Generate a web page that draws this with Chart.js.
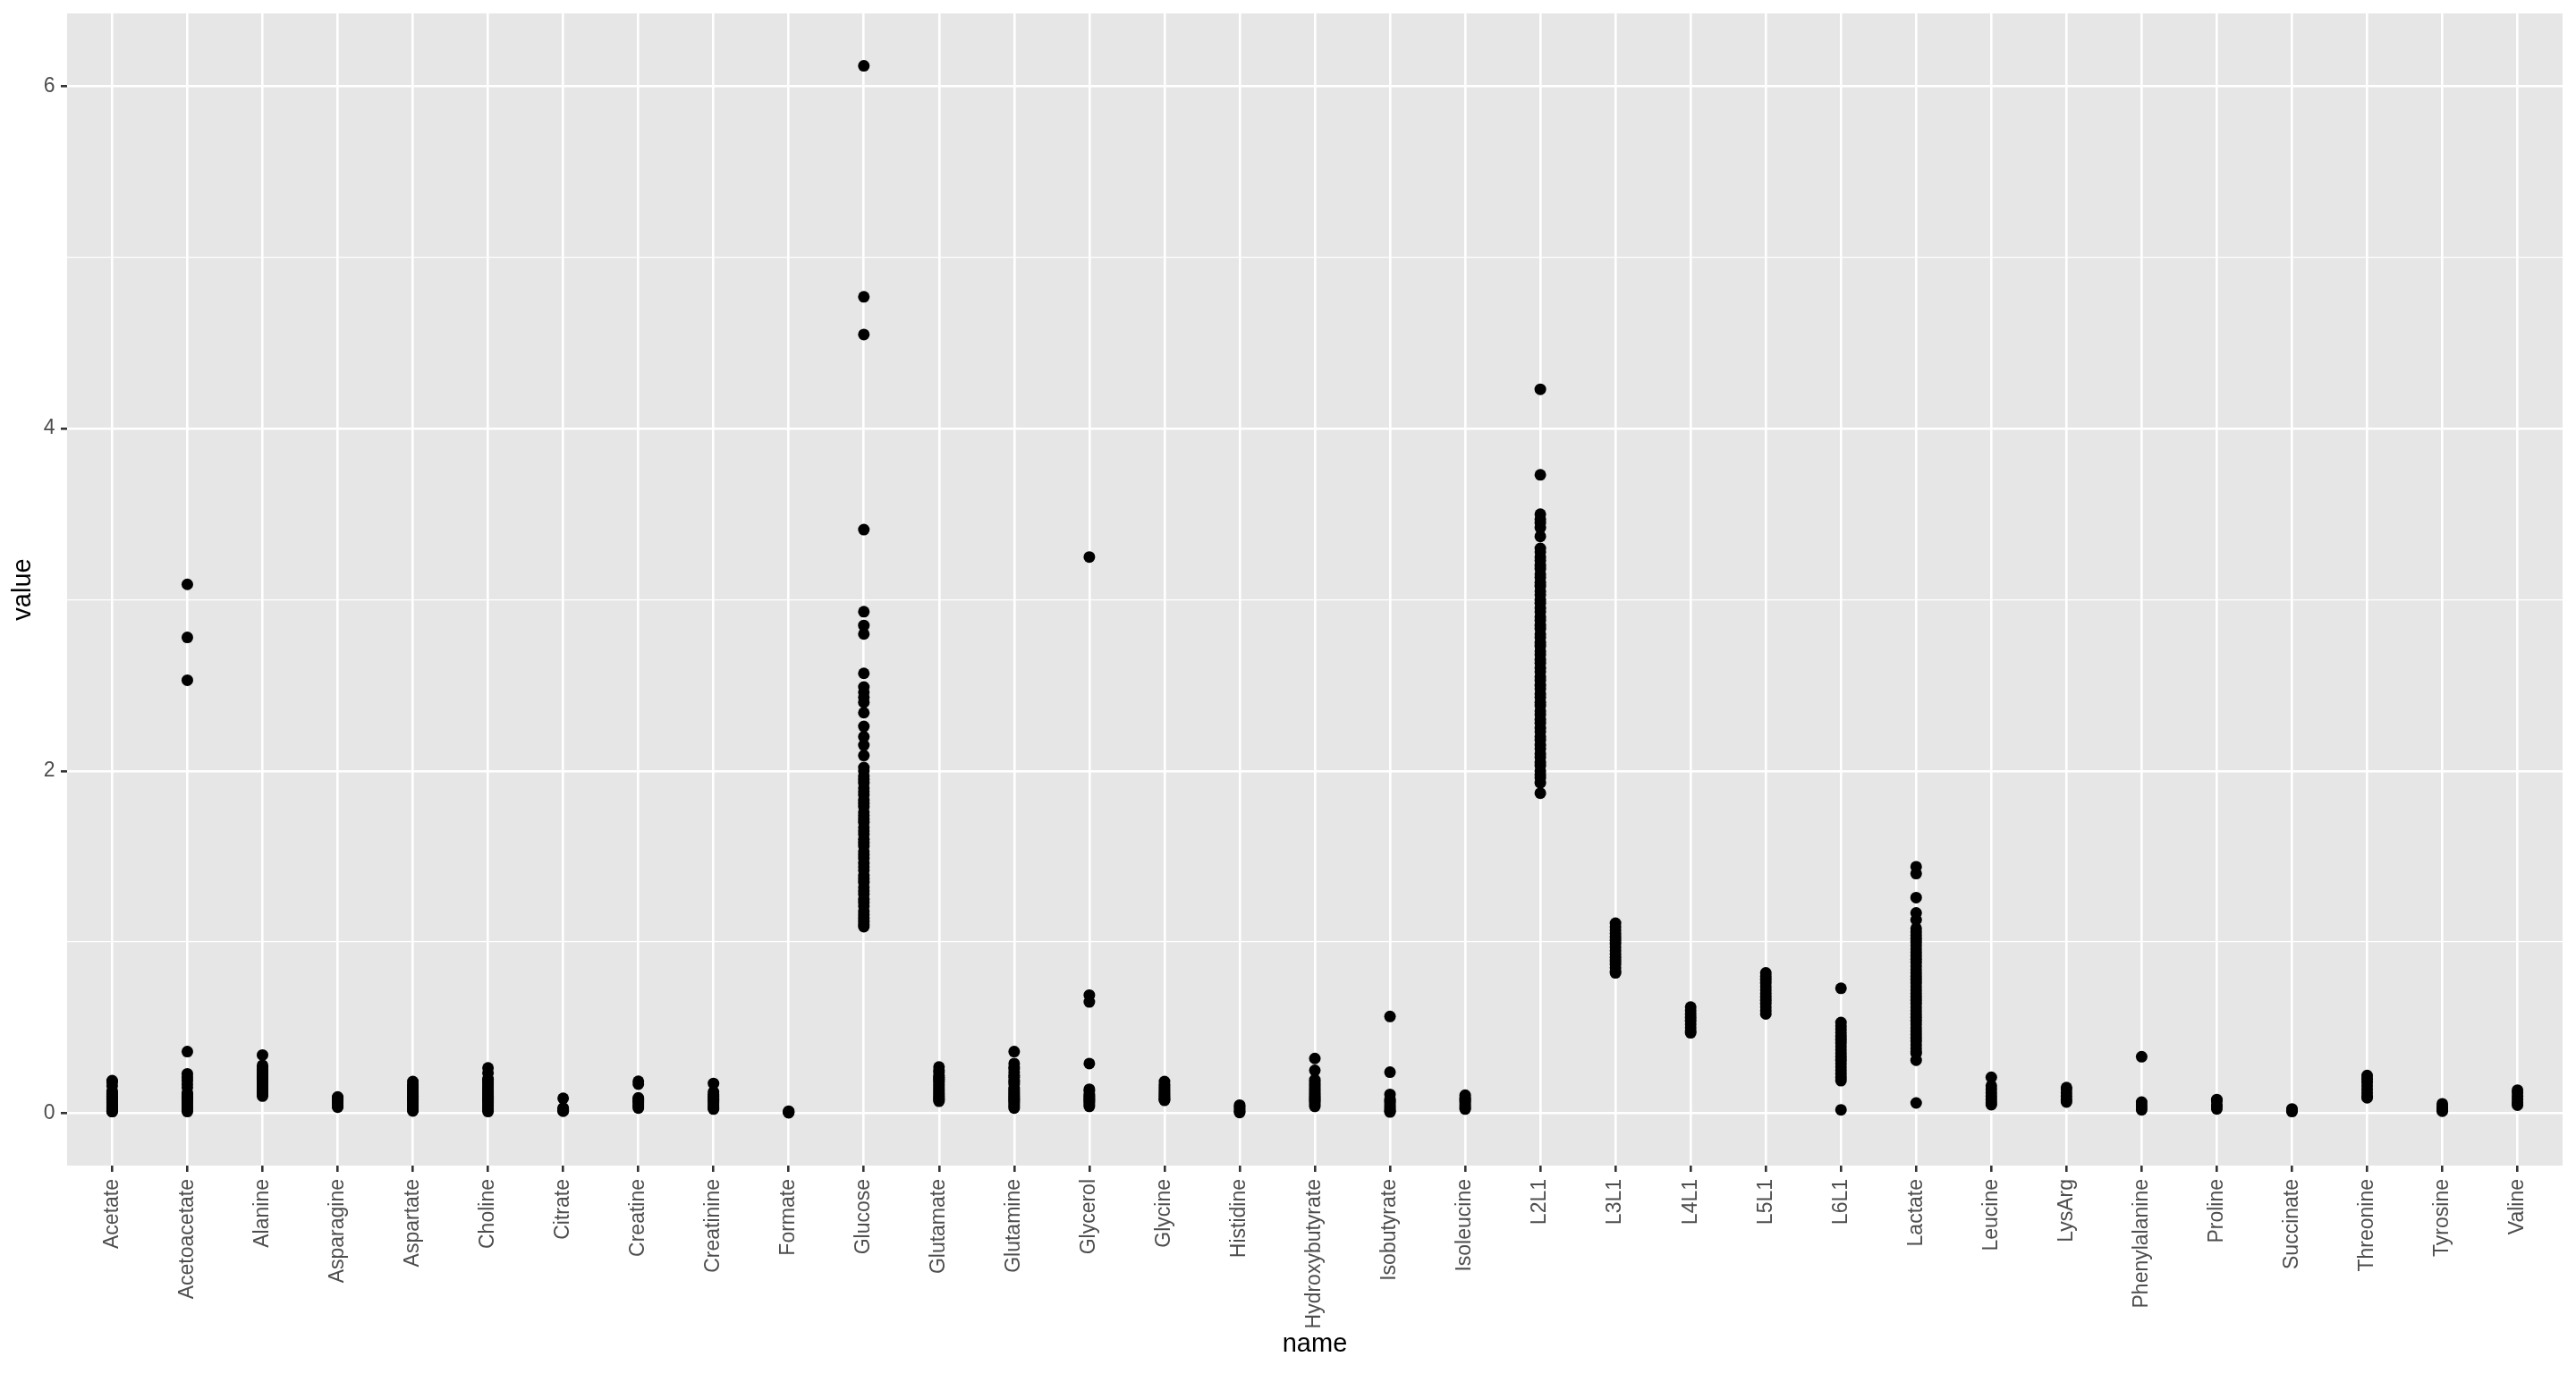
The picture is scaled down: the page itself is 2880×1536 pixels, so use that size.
<!DOCTYPE html>
<html>
<head>
<meta charset="utf-8">
<title>value by name</title>
<script src="https://cdn.jsdelivr.net/npm/chart.js@4.4.1/dist/chart.umd.min.js"></script>
<style>
  html, body { margin: 0; padding: 0; background: #ffffff; }
  canvas { display: block; }
</style>
</head>
<body>
<canvas id="chart" width="2880" height="1536"></canvas>
<script>
// categories on the x axis, in plot order
const categories = ['Acetate', 'Acetoacetate', 'Alanine', 'Asparagine', 'Aspartate', 'Choline', 'Citrate',
    'Creatine', 'Creatinine', 'Formate', 'Glucose', 'Glutamate', 'Glutamine', 'Glycerol', 'Glycine',
    'Histidine', 'Hydroxybutyrate', 'Isobutyrate', 'Isoleucine', 'L2L1', 'L3L1', 'L4L1', 'L5L1', 'L6L1',
    'Lactate', 'Leucine', 'LysArg', 'Phenylalanine', 'Proline', 'Succinate', 'Threonine', 'Tyrosine', 'Valine'];

// values, one list per category
const acetate = [0.19, 0.18, 0.16, 0.13, 0.12, 0.11, 0.10, 0.09, 0.08, 0.07, 0.06, 0.05, 0.05, 0.04, 0.04, 0.03, 0.03, 0.02, 0.02, 0.01, 0.01];
const acetoacetate = [3.09, 2.78, 2.53, 0.36, 0.23, 0.21, 0.19, 0.17, 0.15, 0.12, 0.11, 0.10, 0.09, 0.08, 0.07, 0.06, 0.05, 0.04, 0.03, 0.02, 0.01];
const alanine = [0.34, 0.28, 0.27, 0.26, 0.25, 0.24, 0.23, 0.22, 0.21, 0.20, 0.19, 0.18, 0.17, 0.16, 0.15, 0.14, 0.13, 0.12, 0.11, 0.10];
const asparagine = [0.095, 0.09, 0.08, 0.07, 0.06, 0.05, 0.04, 0.035];
const aspartate = [0.185, 0.17, 0.16, 0.15, 0.14, 0.13, 0.12, 0.11, 0.10, 0.09, 0.08, 0.07, 0.06, 0.05, 0.04, 0.03, 0.02, 0.013];
const choline = [0.265, 0.235, 0.20, 0.19, 0.18, 0.17, 0.16, 0.15, 0.14, 0.13, 0.12, 0.11, 0.10, 0.09, 0.08, 0.07, 0.06, 0.05, 0.04, 0.03, 0.02, 0.01];
const citrate = [0.087, 0.03, 0.025, 0.02, 0.015, 0.012];
const creatine = [0.186, 0.17, 0.09, 0.08, 0.07, 0.06, 0.05, 0.04, 0.03];
const creatinine = [0.174, 0.125, 0.11, 0.10, 0.09, 0.08, 0.07, 0.06, 0.05, 0.04, 0.03, 0.024];
const formate = [0.012, 0.008, 0.005, 0.003];
const glucose = [6.12, 4.77, 4.55, 3.41, 2.93, 2.85, 2.80, 2.57, 2.49, 2.46, 2.43, 2.40, 2.34, 2.26, 2.20, 2.15, 2.09,
    2.02, 2.00, 1.97, 1.95, 1.93, 1.90, 1.88, 1.86, 1.83, 1.81, 1.79, 1.76, 1.74, 1.72, 1.70, 1.67, 1.65, 1.63,
    1.60, 1.58, 1.56, 1.53, 1.51, 1.49, 1.46, 1.44, 1.42, 1.39, 1.37, 1.35, 1.32, 1.30, 1.28, 1.25, 1.23, 1.21,
    1.18, 1.16, 1.14, 1.12, 1.10, 1.09];
const glutamate = [0.27, 0.25, 0.24, 0.22, 0.21, 0.20, 0.19, 0.18, 0.17, 0.16, 0.15, 0.14, 0.13, 0.12, 0.11, 0.10, 0.09, 0.08, 0.07];
const glutamine = [0.36, 0.29, 0.27, 0.26, 0.24, 0.22, 0.21, 0.19, 0.18, 0.17, 0.15, 0.14, 0.13, 0.12, 0.11, 0.10, 0.09, 0.08, 0.07, 0.06, 0.05, 0.04, 0.03];
const glycerol = [3.25, 0.69, 0.65, 0.29, 0.14, 0.13, 0.11, 0.10, 0.09, 0.08, 0.07, 0.06, 0.05, 0.04];
const glycine = [0.185, 0.17, 0.16, 0.15, 0.14, 0.13, 0.12, 0.11, 0.10, 0.09, 0.08, 0.075];
const histidine = [0.047, 0.04, 0.03, 0.02, 0.01, 0.004];
const hydroxybutyrate = [0.32, 0.25, 0.195, 0.18, 0.17, 0.16, 0.15, 0.14, 0.13, 0.12, 0.11, 0.10, 0.09, 0.08, 0.07, 0.06, 0.05, 0.04];
const isobutyrate = [0.565, 0.24, 0.11, 0.08, 0.07, 0.06, 0.05, 0.04, 0.03, 0.02, 0.01, 0.007];
const isoleucine = [0.105, 0.09, 0.08, 0.07, 0.06, 0.05, 0.04, 0.03, 0.024];
const l2l1 = [4.23, 3.73, 3.50, 3.47, 3.45, 3.42, 3.37,
    3.30, 3.28, 3.25, 3.23, 3.20, 3.18, 3.15, 3.13, 3.10, 3.08, 3.05, 3.03, 3.00, 2.98, 2.95, 2.93, 2.90, 2.88,
    2.85, 2.83, 2.80, 2.78, 2.75, 2.73, 2.70, 2.68, 2.65, 2.63, 2.60, 2.58, 2.55, 2.53, 2.50, 2.48, 2.45, 2.43,
    2.40, 2.38, 2.35, 2.33, 2.30, 2.28, 2.25, 2.23, 2.20, 2.18, 2.15, 2.13, 2.10, 2.08, 2.05, 2.03, 2.00, 1.98,
    1.96, 1.93, 1.87];
const l3l1 = [1.11, 1.09, 1.07, 1.05, 1.03, 1.01, 0.99, 0.97, 0.95, 0.93, 0.91, 0.89, 0.87, 0.85, 0.83, 0.82];
const l4l1 = [0.62, 0.60, 0.58, 0.56, 0.54, 0.52, 0.50, 0.48, 0.47];
const l5l1 = [0.82, 0.80, 0.78, 0.76, 0.74, 0.72, 0.70, 0.68, 0.66, 0.64, 0.62, 0.60, 0.58];
const l6l1 = [0.73, 0.53, 0.51, 0.49, 0.47, 0.45, 0.43, 0.41, 0.39, 0.37, 0.35, 0.33, 0.31, 0.29, 0.27, 0.25, 0.23, 0.21, 0.19, 0.02];
const lactate = [1.44, 1.40, 1.26, 1.17, 1.13, 1.08, 1.06, 1.04, 1.02, 1.00, 0.98, 0.96, 0.94, 0.92, 0.90, 0.88,
    0.86, 0.84, 0.82, 0.80, 0.78, 0.76, 0.74, 0.72, 0.70, 0.68, 0.66, 0.64, 0.62, 0.60, 0.58, 0.56, 0.54, 0.52,
    0.50, 0.48, 0.46, 0.44, 0.42, 0.40, 0.38, 0.36, 0.35, 0.31, 0.06];
const leucine = [0.21, 0.16, 0.14, 0.12, 0.10, 0.08, 0.06, 0.05];
const lysArg = [0.15, 0.14, 0.12, 0.10, 0.08, 0.065];
const phenylalanine = [0.33, 0.065, 0.05, 0.035, 0.02];
const proline = [0.08, 0.07, 0.05, 0.04, 0.025];
const succinate = [0.025, 0.02, 0.015, 0.01];
const threonine = [0.22, 0.20, 0.18, 0.16, 0.14, 0.12, 0.10, 0.09];
const tyrosine = [0.055, 0.04, 0.03, 0.02, 0.012];
const valine = [0.135, 0.12, 0.10, 0.08, 0.06, 0.047];

const series = [acetate, acetoacetate, alanine, asparagine, aspartate, choline, citrate, creatine, creatinine,
    formate, glucose, glutamate, glutamine, glycerol, glycine, histidine, hydroxybutyrate, isobutyrate,
    isoleucine, l2l1, l3l1, l4l1, l5l1, l6l1, lactate, leucine, lysArg, phenylalanine, proline, succinate,
    threonine, tyrosine, valine];

// y axis: labelled breaks and the minor breaks in between
const yMajor = [0, 2, 4, 6];
const yMinor = [1, 3, 5];

const points = [];
series.forEach((vals, i) => {
    vals.forEach((v) => points.push({ x: i, y: v }));
});

const FONT = '"Liberation Sans", Arial, Helvetica, sans-serif';

// grey panel behind the grid, like ggplot
const panelBackground = {
    id: 'panelBackground',
    beforeDraw(chart) {
        const { ctx, chartArea } = chart;
        ctx.save();
        ctx.fillStyle = '#E6E6E6';
        ctx.fillRect(chartArea.left, chartArea.top, chartArea.right - chartArea.left, chartArea.bottom - chartArea.top);
        ctx.restore();
    }
};

const ctx = document.getElementById('chart').getContext('2d');
new Chart(ctx, {
    type: 'scatter',
    data: {
        datasets: [{
            data: points,
            backgroundColor: '#000000',
            borderWidth: 0,
            pointRadius: 6.5,
            pointHoverRadius: 6.5
        }]
    },
    options: {
        responsive: false,
        animation: false,
        devicePixelRatio: 1,
        events: [],
        layout: { padding: { top: 15, right: 15, left: 0, bottom: 0 } },
        plugins: {
            legend: { display: false },
            tooltip: { enabled: false }
        },
        scales: {
            x: {
                type: 'linear',
                min: -0.6,
                max: categories.length - 1 + 0.6,
                afterBuildTicks: (scale) => {
                    scale.ticks = categories.map((c, i) => ({ value: i }));
                },
                afterFit: (scale) => {
                    scale.height = 233;
                    scale.paddingLeft = 0;
                    scale.paddingRight = 0;
                },
                ticks: {
                    autoSkip: false,
                    minRotation: 90,
                    maxRotation: 90,
                    padding: 8,
                    color: '#4D4D4D',
                    font: { family: FONT, size: 23 },
                    callback: (value) => categories[value]
                },
                grid: {
                    color: '#FFFFFF',
                    lineWidth: 2.6,
                    drawTicks: true,
                    tickLength: 7,
                    tickColor: '#333333',
                    tickWidth: 2.6
                },
                border: { display: false },
                title: {
                    display: true,
                    text: 'name',
                    color: '#000000',
                    font: { family: FONT, size: 29 },
                    padding: { top: 0, bottom: 16 }
                }
            },
            y: {
                type: 'linear',
                min: -0.306,
                max: 6.426,
                afterBuildTicks: (scale) => {
                    scale.ticks = yMajor.concat(yMinor).sort((a, b) => a - b).map((v) => ({ value: v }));
                },
                afterFit: (scale) => {
                    scale.width = 75;
                    scale.paddingTop = 0;
                    scale.paddingBottom = 0;
                },
                ticks: {
                    padding: 6.5,
                    color: '#4D4D4D',
                    font: { family: FONT, size: 23 },
                    callback: (value) => (yMajor.includes(value) ? String(value) : '')
                },
                grid: {
                    color: '#FFFFFF',
                    lineWidth: (c) => (yMajor.includes(c.tick.value) ? 2.6 : 1.3),
                    drawTicks: true,
                    tickLength: 7,
                    tickColor: (c) => (yMajor.includes(c.tick.value) ? '#333333' : 'rgba(0,0,0,0)'),
                    tickWidth: 2.6
                },
                border: { display: false },
                title: {
                    display: true,
                    text: 'value',
                    color: '#000000',
                    font: { family: FONT, size: 29 },
                    padding: { top: 8.5, bottom: 0 }
                }
            }
        }
    },
    plugins: [panelBackground]
});
</script>
</body>
</html>
